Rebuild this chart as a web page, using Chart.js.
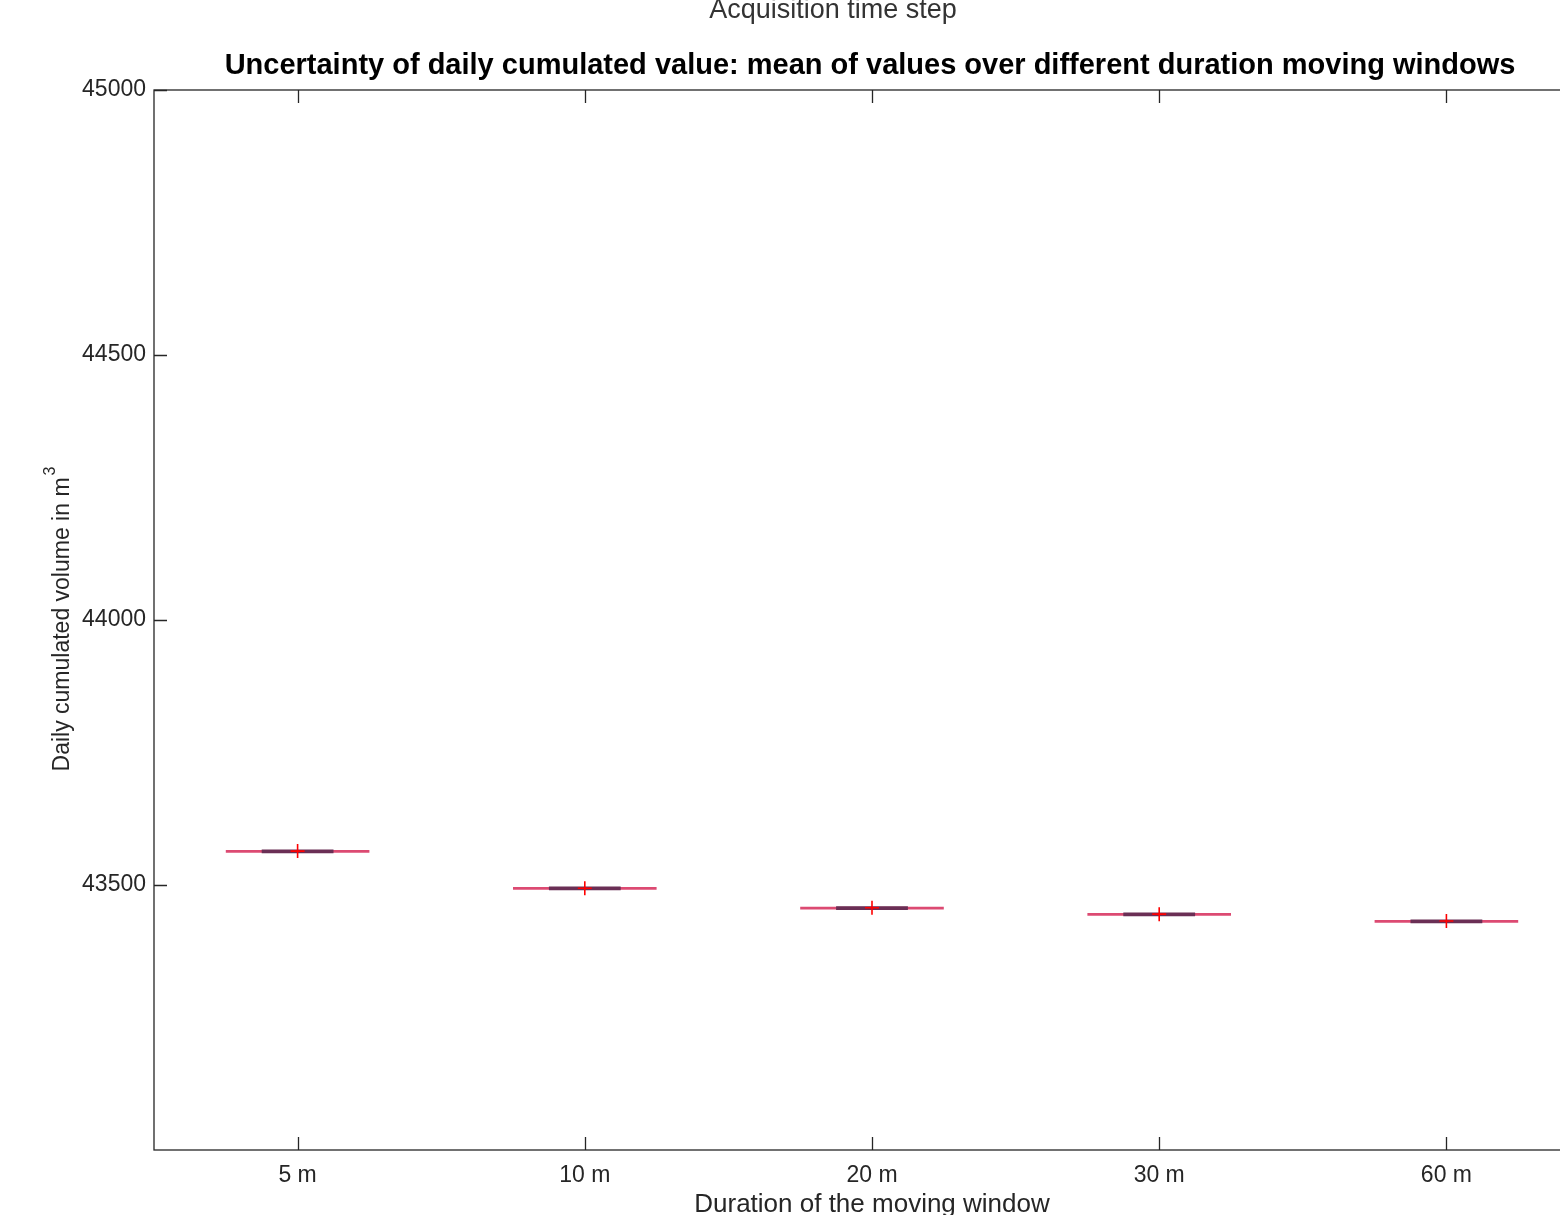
<!DOCTYPE html>
<html lang="en">
<head>
  <meta charset="UTF-8" />
  <title>Daily cumulated volume boxplot</title>
  <script src="https://cdn.jsdelivr.net/npm/chart.js"></script>
  <style>
    html, body {
      margin: 0;
      padding: 0;
      background: #ffffff;
      overflow: hidden;
    }
    #chart {
      display: block;
    }
  </style>
</head>
<body>
  <canvas id="chart" width="1600" height="1215"></canvas>

  <script>
    // values
    const windows = ['5 m', '10 m', '20 m', '30 m', '60 m'];
    const q1 = [43561, 43491, 43454, 43442, 43429];
    const q3 = [43566, 43496, 43459, 43447, 43434];
    const whiskLo = [43560, 43490, 43453, 43441, 43428];
    const whiskHi = [43567, 43497, 43460, 43448, 43435];
    const means = [43564, 43494, 43457, 43445, 43432];
    const yTicks = [43500, 44000, 44500, 45000];

    const axisColor = '#262626';
    const fontFam = '"Liberation Sans", Arial, Helvetica, sans-serif';

    // frame, inward ticks and the texts MATLAB puts around the axes
    const matlabAxes = {
      id: 'matlabAxes',
      afterDraw(chart) {
        const { ctx, chartArea: a, scales } = chart;
        const tl = 13;
        ctx.save();
        ctx.strokeStyle = axisColor;
        ctx.lineWidth = 1.3;
        ctx.strokeRect(a.left, a.top, a.right - a.left, a.bottom - a.top);
        ctx.beginPath();
        windows.forEach((w, i) => {
          const x = Math.round(scales.x.getPixelForValue(i)) + 0.5;
          ctx.moveTo(x, a.bottom); ctx.lineTo(x, a.bottom - tl);
          ctx.moveTo(x, a.top); ctx.lineTo(x, a.top + tl);
        });
        yTicks.forEach(v => {
          const y = Math.round(scales.y.getPixelForValue(v)) + 0.5;
          ctx.moveTo(a.left, y); ctx.lineTo(a.left + tl, y);
          ctx.moveTo(a.right, y); ctx.lineTo(a.right - tl, y);
        });
        ctx.stroke();

        const cx = (a.left + a.right) / 2;
        ctx.textAlign = 'center';
        ctx.textBaseline = 'middle';

        ctx.fillStyle = '#333333';
        ctx.font = '27px ' + fontFam;
        ctx.fillText('Acquisition time step', 833, 11);

        ctx.fillStyle = '#000000';
        ctx.font = 'bold 29px ' + fontFam;
        ctx.fillText('Uncertainty of daily cumulated value: mean of values over different duration moving windows', cx - 2, 66);

        ctx.fillStyle = '#262626';
        ctx.font = '26px ' + fontFam;
        ctx.fillText('Duration of the moving window', cx, 1205);

        // y axis title with superscript 3
        ctx.save();
        ctx.translate(63, (a.top + a.bottom) / 2);
        ctx.rotate(-Math.PI / 2);
        const main = 'Daily cumulated volume in m';
        ctx.font = '23px ' + fontFam;
        const wMain = ctx.measureText(main).width;
        ctx.font = '16px ' + fontFam;
        const wSup = ctx.measureText('3').width;
        const start = -(wMain + wSup) / 2;
        ctx.textAlign = 'left';
        ctx.font = '23px ' + fontFam;
        ctx.fillText(main, start, 0);
        ctx.font = '16px ' + fontFam;
        ctx.fillText('3', start + wMain + 2, -12);
        ctx.restore();

        ctx.restore();
      }
    };

    new Chart(document.getElementById('chart').getContext('2d'), {
      data: {
        labels: windows,
        datasets: [
          {
            type: 'bar',
            label: 'box',
            data: windows.map((w, i) => [q1[i], q3[i]]),
            backgroundColor: '#dc4a72',
            borderWidth: 0,
            grouped: false,
            barPercentage: 0.5,
            categoryPercentage: 1,
            order: 3
          },
          {
            type: 'bar',
            label: 'whiskers',
            data: windows.map((w, i) => [whiskLo[i], whiskHi[i]]),
            backgroundColor: '#6a2f55',
            borderWidth: 0,
            grouped: false,
            barPercentage: 0.25,
            categoryPercentage: 1,
            order: 2
          },
          {
            type: 'line',
            label: 'mean',
            data: means,
            showLine: false,
            pointStyle: 'cross',
            pointRadius: 7,
            pointBorderWidth: 1.6,
            pointBorderColor: '#ff0000',
            pointBackgroundColor: '#ff0000',
            order: 1
          }
        ]
      },
      options: {
        responsive: false,
        animation: false,
        devicePixelRatio: 1,
        layout: { padding: { top: 90, right: 10, left: 0, bottom: 0 } },
        plugins: {
          legend: { display: false },
          tooltip: { enabled: false },
          title: { display: false }
        },
        scales: {
          x: {
            type: 'category',
            offset: true,
            grid: { display: false, drawTicks: false },
            border: { display: false },
            ticks: {
              color: '#262626',
              padding: 12,
              maxRotation: 0,
              font: { family: fontFam, size: 23 }
            },
            afterFit: s => { s.height = 65; }
          },
          y: {
            type: 'linear',
            min: 43000,
            max: 45000,
            grid: { display: false, drawTicks: false },
            border: { display: false },
            ticks: {
              stepSize: 500,
              color: '#262626',
              padding: 8,
              font: { family: fontFam, size: 23 },
              callback: v => (yTicks.includes(v) ? String(v) : '')
            },
            afterFit: s => { s.width = 154; }
          }
        }
      },
      plugins: [matlabAxes]
    });
  </script>
</body>
</html>
